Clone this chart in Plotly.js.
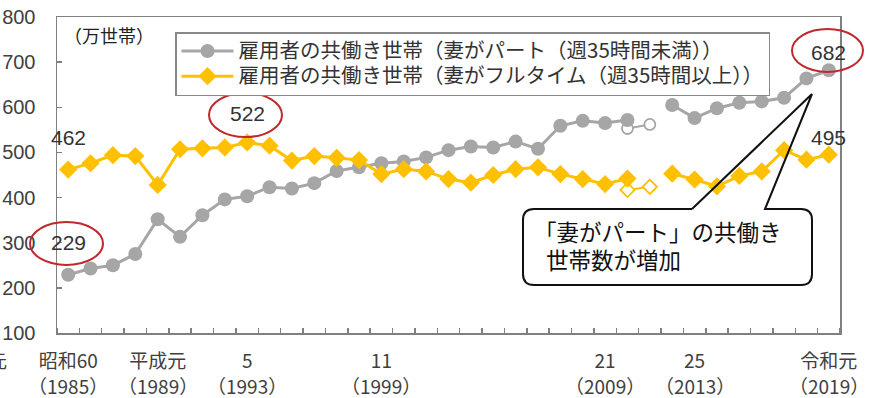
<!DOCTYPE html>
<html>
<head>
<meta charset="utf-8">
<script src="https://cdn.plot.ly/plotly-3.0.1.min.js"></script>
<style>html,body{margin:0;padding:0;background:#fff;}#chart{width:870px;height:398px;}</style>
</head>
<body>
<div id="chart"></div>
<script>
// ---- data ----
const years = [1985,1986,1987,1988,1989,1990,1991,1992,1993,1994,1995,1996,1997,1998,1999,2000,2001,2002,2003,2004,2005,2006,2007,2008,2009,2010,2011,2012,2013,2014,2015,2016,2017,2018,2019];
const partTime = [229,243,250,275,352,313,361,396,403,423,420,432,459,467,476,480,489,505,513,511,524,508,559,570,565,572,null,605,576,598,610,613,621,664,682];
const fullTime = [462,476,494,492,428,507,509,511,522,515,482,492,488,483,452,463,458,441,433,450,463,467,452,441,430,442,null,453,440,425,448,458,505,484,495];
const exclYears = [2010, 2011];
const partTimeExcl = [553, 562];
const fullTimeExcl = [417, 424];
const tickYears = [1985,1989,1993,1999,2009,2013,2019];
const tickEra = ["昭和60","平成元","5","11","21","25","令和元"];
const seriesNames = ["雇用者の共働き世帯（妻がパート（週35時間未満））","雇用者の共働き世帯（妻がフルタイム（週35時間以上））"];
const labelYears = [1985, 1985, 1993, 2019, 2019];
const labelVals = [462, 229, 522, 682, 495];
const labelPos = [532, 300, 587, 722, 534];
const unitLabel = "（万世帯）";
const calloutLines = ["「妻がパート」の共働き", "世帯数が増加"];

const GREY = '#A6A6A6', GOLD = '#FFC000';
const W = 870, H = 398, L = 57, R = 30, T = 17, B = 65;
const pw = W - L - R, ph = H - T - B;
const px = v => (v - L) / pw;
const py = v => (H - B - v) / ph;
const legendName = s => '<span style="font-size:20.5px">' + s + '</span>';

const traces = [
  {x: exclYears, y: partTimeExcl, mode: 'lines+markers', showlegend: false, hoverinfo: 'skip',
   line: {color: GREY, width: 2}, marker: {symbol: 'circle', size: 11, color: '#fff', line: {color: GREY, width: 1.8}}},
  {x: exclYears, y: fullTimeExcl, mode: 'lines+markers', showlegend: false, hoverinfo: 'skip',
   line: {color: GOLD, width: 2}, marker: {symbol: 'diamond', size: 11, color: '#fff', line: {color: GOLD, width: 1.8}}},
  {x: years, y: partTime, name: legendName(seriesNames[0]), mode: 'lines+markers', connectgaps: false,
   line: {color: GREY, width: 3}, marker: {symbol: 'circle', size: 14, color: GREY}},
  {x: years, y: fullTime, name: legendName(seriesNames[1]), mode: 'lines+markers', connectgaps: false,
   line: {color: GOLD, width: 3}, marker: {symbol: 'diamond', size: 14, color: GOLD}}
];

const annotations = labelYears.map((yr, i) => ({
  x: yr, y: labelPos[i], xref: 'x', yref: 'y', text: String(labelVals[i]), showarrow: false,
  font: {family: 'Liberation Sans, Arial, sans-serif', size: 21, color: '#333'}
}));
// second line of the x tick labels (western year)
tickYears.forEach(yr => annotations.push({
  x: yr, xref: 'x', yref: 'paper', y: py(385), yanchor: 'middle', text: '（' + yr + '）', showarrow: false,
  font: {family: 'Noto Sans CJK JP', size: 19, color: '#404040'}
}));
annotations.push({xref: 'paper', yref: 'paper', x: px(62), y: py(35), xanchor: 'left', yanchor: 'middle',
  text: unitLabel, showarrow: false, font: {family: 'Noto Sans CJK JP', size: 18, color: '#222'}});
calloutLines.forEach((t, i) => annotations.push({xref: 'paper', yref: 'paper', x: px(i === 0 ? 532 : 544), y: py(231 + 28 * i),
  xanchor: 'left', yanchor: 'middle', text: t, showarrow: false,
  font: {family: 'Noto Sans CJK JP', size: 22.5, color: '#111'}}));
annotations.push({xref: 'paper', yref: 'paper', x: px(9), y: py(360), xanchor: 'right', yanchor: 'middle',
  text: '元', showarrow: false, font: {family: 'Noto Sans CJK JP', size: 18, color: '#404040'}});

function ellipse(x0, x1, y0, y1) {
  return {type: 'circle', xref: 'paper', yref: 'paper', x0: px(x0), x1: px(x1), y0: py(y1), y1: py(y0),
          line: {color: '#C0282D', width: 2}, fillcolor: 'rgba(0,0,0,0)', layer: 'above'};
}
// callout bubble
const bl = 523, br = 812, bt = 209, bb = 285, r = 11, gl = 692, gr = 765, ax = 812, ay = 94;
const P = (a, b) => px(a) + ',' + py(b);
const rectPath = 'M' + P(bl + r, bt) + ' L' + P(br - r, bt) + ' Q' + P(br, bt) + ' ' + P(br, bt + r) +
  ' L' + P(br, bb - r) + ' Q' + P(br, bb) + ' ' + P(br - r, bb) + ' L' + P(bl + r, bb) + ' Q' + P(bl, bb) + ' ' + P(bl, bb - r) +
  ' L' + P(bl, bt + r) + ' Q' + P(bl, bt) + ' ' + P(bl + r, bt) + ' Z';
const outlinePath = 'M' + P(gl, bt) + ' L' + P(bl + r, bt) + ' Q' + P(bl, bt) + ' ' + P(bl, bt + r) +
  ' L' + P(bl, bb - r) + ' Q' + P(bl, bb) + ' ' + P(bl + r, bb) + ' L' + P(br - r, bb) + ' Q' + P(br, bb) + ' ' + P(br, bb - r) +
  ' L' + P(br, bt + r) + ' Q' + P(br, bt) + ' ' + P(br - r, bt) + ' L' + P(gr, bt) + ' L' + P(ax, ay) + ' L' + P(gl, bt);

const shapes = [
  ellipse(30, 103, 222, 265),
  ellipse(209, 282, 93, 137),
  ellipse(792, 863, 29, 72),
  {type: 'path', xref: 'paper', yref: 'paper', path: rectPath, fillcolor: '#fff', line: {width: 0}, layer: 'above'},
  {type: 'path', xref: 'paper', yref: 'paper', path: outlinePath, fillcolor: 'rgba(0,0,0,0)', line: {color: '#111', width: 2}, layer: 'above'}
];

const layout = {
  width: W, height: H,
  margin: {l: L, r: R, t: T, b: B},
  paper_bgcolor: '#fff', plot_bgcolor: '#fff',
  showlegend: true,
  legend: {x: px(175), y: py(32), xanchor: 'left', yanchor: 'top', bgcolor: '#fff', bordercolor: '#888', borderwidth: 1.5,
           itemwidth: 52,
           font: {family: 'Noto Sans CJK JP', size: 17, color: '#333'}, tracegroupgap: 0},
  xaxis: {range: [1984.5, 2019.5], tickmode: 'array', tickvals: tickYears, ticktext: tickEra,
          ticks: '', showline: true, mirror: true, linecolor: '#808080', linewidth: 1.5,
          showgrid: false, zeroline: false, ticklabelstandoff: 11,
          tickfont: {family: 'Noto Sans CJK JP', size: 19, color: '#404040'},
          minor: {tickmode: 'linear', tick0: 1984.5, dtick: 1, ticks: 'inside', ticklen: 5, tickcolor: '#808080', tickwidth: 1.5, showgrid: false}},
  yaxis: {range: [100, 800], tick0: 100, dtick: 100, ticks: 'inside', ticklen: 5, tickcolor: '#808080', tickwidth: 1.5,
          showline: true, mirror: true, linecolor: '#808080', linewidth: 1.5, showgrid: false, zeroline: false,
          ticklabelstandoff: 16,
          tickfont: {family: 'Liberation Sans, Arial, sans-serif', size: 20, color: '#404040'}},
  annotations: annotations,
  shapes: shapes
};

Plotly.newPlot('chart', traces, layout, {displayModeBar: false, staticPlot: true});
</script>
</body>
</html>
